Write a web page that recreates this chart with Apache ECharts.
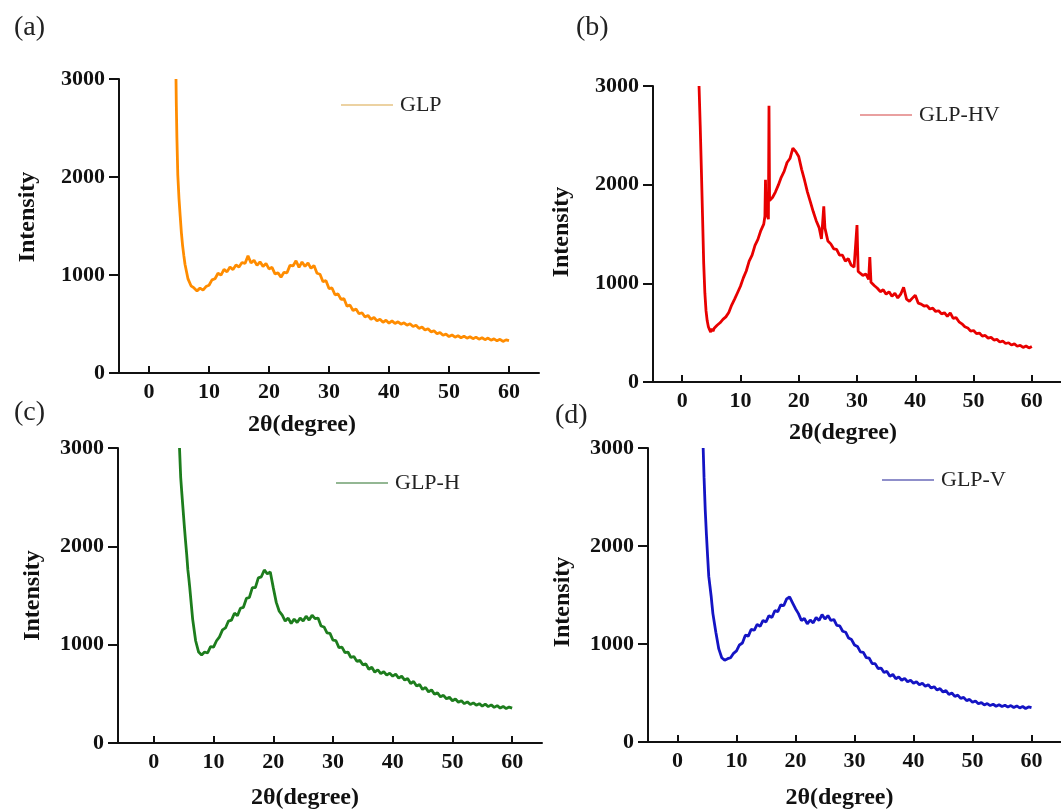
<!DOCTYPE html>
<html><head><meta charset="utf-8">
<script src="https://cdn.jsdelivr.net/npm/echarts@6/dist/echarts.min.js"></script>
<style>html,body{margin:0;padding:0;background:#fff}#c{width:1061px;height:811px}</style>
</head><body><div id="c"></div><script>
// shared 2θ sampling grid (degrees)
const twoTheta = [6,6.5,7,7.5,8,8.5,9,9.5,10,10.5,11,11.5,12,12.5,13,13.5,14,14.5,15,15.5,16,16.5,17,17.5,18,18.5,19,19.5,20,20.5,21,21.5,22,22.5,23,23.5,24,24.5,25,25.5,26,26.5,27,27.5,28,28.5,29,29.5,30,30.5,31,31.5,32,32.5,33,33.5,34,34.5,35,35.5,36,36.5,37,37.5,38,38.5,39,39.5,40,40.5,41,41.5,42,42.5,43,43.5,44,44.5,45,45.5,46,46.5,47,47.5,48,48.5,49,49.5,50,50.5,51,51.5,52,52.5,53,53.5,54,54.5,55,55.5,56,56.5,57,57.5,58,58.5,59,59.5,60];
const xTicks = [0,10,20,30,40,50,60];

// (a) GLP
const glpLeadX = [4.5,4.55,4.65,4.8,5.0,5.2,5.4,5.6,5.8];
const glpLeadY = [3000,2750,2400,2020,1780,1600,1430,1300,1200];
const glpY = [1110,960,890,868,838,866,845,882,895,950,
  962,1018,998,1058,1032,1082,1055,1102,1082,1128,
  1118,1195,1122,1150,1098,1135,1088,1118,1062,1078,
  1012,1022,978,1028,1022,1098,1092,1145,1078,1132,
  1088,1122,1068,1098,1018,1008,932,942,862,868,
  798,808,752,758,682,692,638,652,605,615,
  572,588,548,566,532,548,518,538,508,532,
  505,522,498,512,488,502,475,488,455,470,
  438,452,420,430,400,414,385,396,372,388,
  365,380,360,376,355,370,350,366,345,360,
  340,356,335,348,328,344,322,338,330];

// (b) GLP-HV
const glpHvX = [2.9,3.1,3.3,3.5,3.7,3.9,4.1,4.3,4.5,4.7,
  4.9,5.1,5.3,5.5,5.7,6,6.5,7,7.5,8,
  8.5,9,9.5,10,10.5,11,11.5,12,12.5,13,
  13.5,14,14.2,14.3,14.4,14.6,14.8,14.9,15,15.5,
  16,16.5,17,17.5,18,18.5,19,19.5,20,20.5,
  21,21.5,22,22.5,23,23.5,23.9,24.1,24.3,24.5,
  25,25.5,26,26.5,27,27.5,28,28.5,29,29.5,
  29.8,30,30.2,30.5,31,31.5,32,32.2,32.4,33,
  33.5,34,34.5,35,35.5,36,36.5,37,37.5,38,
  38.5,39,39.5,40,40.5,41,41.5,42,42.5,43,
  43.5,44,44.5,45,45.5,46,46.5,47,47.5,48,
  48.5,49,49.5,50,50.5,51,51.5,52,52.5,53,
  53.5,54,54.5,55,55.5,56,56.5,57,57.5,58,
  58.5,59,59.5,60];
const glpHvY = [3000,2600,2150,1680,1200,900,720,620,560,530,
  505,540,515,545,535,575,600,635,660,705,
  780,840,905,970,1055,1125,1225,1285,1385,1445,
  1535,1600,1680,2050,1720,1690,1650,2800,1840,1870,
  1925,1995,2075,2135,2225,2265,2370,2335,2285,2155,
  2045,1925,1825,1725,1635,1565,1450,1610,1780,1560,
  1430,1400,1350,1345,1285,1285,1225,1250,1185,1165,
  1180,1590,1120,1135,1080,1095,1040,1265,1010,975,
  950,915,935,890,915,868,900,852,890,960,
  840,818,850,880,800,790,770,775,740,748,
  715,722,690,702,665,700,645,652,610,590,
  560,548,515,522,490,496,465,472,445,452,
  425,432,405,415,390,398,375,386,362,372,
  350,365,345,360];

// (c) GLP-H
const glpHLeadX = [4.3,4.5,4.7,4.9,5.1,5.3,5.5,5.7,5.85];
const glpHLeadY = [3000,2700,2530,2370,2210,2060,1920,1760,1680];
const glpHY = [1590,1260,1040,925,895,925,915,980,975,1040,
  1080,1150,1170,1240,1250,1320,1295,1370,1380,1470,
  1480,1580,1580,1680,1690,1760,1720,1740,1580,1430,
  1340,1300,1240,1270,1215,1260,1225,1270,1240,1290,
  1250,1300,1265,1270,1190,1180,1120,1115,1045,1040,
  970,975,920,925,870,880,830,840,795,805,
  750,770,720,745,705,725,690,710,680,700,
  660,680,640,655,605,625,580,595,545,565,
  520,540,495,510,470,485,450,465,430,448,
  415,430,400,418,392,408,385,400,375,395,
  370,388,362,380,355,372,350,365,355];

// (d) GLP-V
const glpVLeadX = [4.35,4.5,4.7,4.9,5.1,5.3,5.5,5.7,5.85];
const glpVLeadY = [3000,2700,2370,2120,1900,1690,1590,1490,1400];
const glpVY = [1310,1120,950,860,835,850,860,905,930,990,
  1010,1090,1080,1150,1140,1200,1180,1240,1225,1290,
  1270,1340,1330,1400,1390,1460,1480,1420,1360,1310,
  1240,1260,1205,1245,1215,1270,1240,1300,1255,1290,
  1240,1250,1190,1185,1130,1120,1060,1045,990,975,
  920,915,860,855,800,800,750,755,710,720,
  670,690,645,665,630,650,615,630,600,615,
  585,600,570,585,550,565,530,545,510,525,
  485,500,465,478,445,455,422,435,405,418,
  390,402,378,392,372,385,365,380,362,375,
  358,372,352,368,348,362,342,358,350];

const seriesNames = ['GLP','GLP-HV','GLP-H','GLP-V'];
const panelLabels = ['(a)','(b)','(c)','(d)'];

function pairs(xs, ys){ return xs.map((x,i)=>[x, ys[i]]); }
const panelData = [
  pairs(glpLeadX.concat(twoTheta), glpLeadY.concat(glpY)),
  pairs(glpHvX, glpHvY),
  pairs(glpHLeadX.concat(twoTheta), glpHLeadY.concat(glpHY)),
  pairs(glpVLeadX.concat(twoTheta), glpVLeadY.concat(glpVY))
];

const FONT = "'Liberation Serif','Times New Roman',serif";
const layout = [
  {grid:{left:119,top:79,width:420,height:294}, xMin:-5, color:'#ff8c00', legendColor:'#e6c383', legend:{left:341,top:94}, lab:{left:14,top:14}, xGap:40, xShift:54, yGap:79, yPad:[0,0,0,18]},
  {grid:{left:653,top:86,width:418,height:296}, xMin:-5, color:'#e80000', legendColor:'#e28080', legend:{left:860,top:104}, lab:{left:576,top:14}, xGap:39, xShift:28, yGap:79, yPad:[0,0,0,4]},
  {grid:{left:118,top:448,width:424,height:295}, xMin:-6, color:'#1d7d1d', legendColor:'#6f9f6f', legend:{left:336,top:472}, lab:{left:14,top:399}, xGap:43, xShift:50, yGap:73, yPad:[0,0,0,0]},
  {grid:{left:648,top:448,width:419,height:295}, xMin:-5, color:'#1414c4', legendColor:'#6a6ab8', legend:{left:882,top:469}, lab:{left:555,top:402}, xGap:44, xShift:30, yGap:73, yPad:[0,14,0,0]}
];

const option = {
  backgroundColor:'#fff',
  animation:false,
  title: layout.map((p,i)=>({text:panelLabels[i], left:p.lab.left, top:p.lab.top, padding:0,
    textStyle:{fontFamily:FONT, fontSize:28, fontWeight:'normal', color:'#222'}})),
  legend: layout.map((p,i)=>({data:[{name:seriesNames[i], itemStyle:{color:p.legendColor}}], left:p.legend.left, top:p.legend.top,
    icon:'rect', itemWidth:52, itemHeight:1.5, padding:0,
    textStyle:{fontFamily:FONT, fontSize:22, color:'#222', lineHeight:22, padding:[0,0,0,2]}})),
  grid: layout.map(p=>Object.assign({containLabel:false}, p.grid)),
  xAxis: layout.map((p,i)=>({type:'value', gridIndex:i, min:p.xMin, max:65,
    name:'2θ(degree)', nameLocation:'middle', nameGap:p.xGap,
    nameTextStyle:{fontFamily:FONT, fontSize:24, fontWeight:'bold', color:'#111', padding:[0,p.xShift,0,0]},
    axisLine:{onZero:false, lineStyle:{color:'#111', width:2}},
    axisTick:{show:true, inside:true, length:7, lineStyle:{color:'#111', width:2}, customValues:xTicks},
    axisLabel:{fontFamily:FONT, fontSize:22, fontWeight:'bold', color:'#111', margin:8, customValues:xTicks},
    splitLine:{show:false}})),
  yAxis: layout.map((p,i)=>({type:'value', gridIndex:i, min:0, max:3000, interval:1000,
    name:'Intensity', nameLocation:'middle', nameGap:p.yGap,
    nameTextStyle:{fontFamily:FONT, fontSize:24, fontWeight:'bold', color:'#111', padding:p.yPad},
    axisLine:{show:true, onZero:false, lineStyle:{color:'#111', width:2}},
    axisTick:{show:true, inside:false, length:10, lineStyle:{color:'#111', width:2}},
    axisLabel:{fontFamily:FONT, fontSize:22, fontWeight:'bold', color:'#111', margin:14, formatter:v=>String(v)},
    splitLine:{show:false}})),
  series: layout.map((p,i)=>({type:'line', name:seriesNames[i], xAxisIndex:i, yAxisIndex:i,
    data:panelData[i], showSymbol:false, symbol:'none', clip:true,
    lineStyle:{color:p.color, width:2.8}, itemStyle:{color:p.color}}))
};
const chart = echarts.init(document.getElementById('c'));
chart.setOption(option);
</script></body></html>
